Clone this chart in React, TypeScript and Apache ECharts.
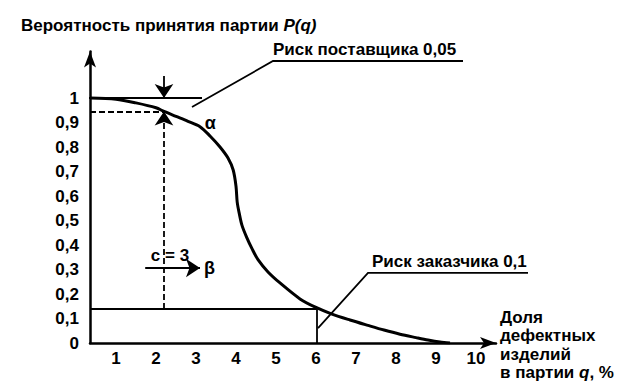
import React, { useEffect, useRef } from "react";
import * as echarts from "echarts";

// Operating characteristic curve: q (% defective) vs P(q)
const qValues = [0.35, 1.0, 1.5, 2.0, 2.2, 2.5, 2.8, 3.1, 3.35, 3.6, 3.8, 3.93, 4.0, 4.03, 4.08, 4.15, 4.27, 4.4, 4.55, 4.8, 5.1, 5.6, 6.0, 6.4, 6.85, 7.3, 7.7, 8.1, 8.5, 8.8, 9.1, 9.35];
const pValues = [1.0, 0.995, 0.98, 0.96, 0.945, 0.925, 0.905, 0.883, 0.845, 0.8, 0.755, 0.706, 0.64, 0.575, 0.53, 0.48, 0.43, 0.385, 0.34, 0.29, 0.245, 0.18, 0.145, 0.118, 0.094, 0.072, 0.053, 0.036, 0.022, 0.012, 0.004, 0.0];

const xTickLabels = [1, 2, 3, 4, 5, 6, 7, 8, 9, 10];
const yTickLabels = [0, 0.1, 0.2, 0.3, 0.4, 0.5, 0.6, 0.7, 0.8, 0.9, 1];

// key reference values
const qAlpha = 2.2; // producer's quality level
const pAlpha = 0.945; // 1 - alpha
const qBeta = 6.02; // consumer's quality level
const pBeta = 0.139; // beta level

const FONT = "'Liberation Sans', Arial, sans-serif";

export default function App() {
  const ref = useRef<HTMLDivElement>(null);

  useEffect(() => {
    document.body.style.margin = "0";
    if (!ref.current) return;
    const chart = echarts.init(ref.current, null, { renderer: "svg" });

    const arrowSeries = (coords: number[][], dashed: boolean, arrow: boolean, width = 2) => ({
      type: "lines",
      coordinateSystem: "cartesian2d",
      polyline: false,
      silent: true,
      symbol: arrow ? ["none", "arrow"] : ["none", "none"],
      symbolSize: [9, 14],
      lineStyle: { color: "#000", width, type: dashed ? [6, 3] : "solid", opacity: 1 },
      data: [{ coords }],
    });

    chart.setOption({
      animation: false,
      backgroundColor: "#fff",
      grid: { left: 90, top: 51.45, width: 406, height: 291.55, containLabel: false },
      xAxis: {
        type: "value",
        min: 0.35,
        max: 10.5,
        splitLine: { show: false },
        axisTick: { show: false },
        axisLine: {
          show: true,
          onZero: false,
          symbol: ["none", "arrow"],
          symbolSize: [9, 16],
          lineStyle: { color: "#000", width: 2.5 },
        },
        axisLabel: {
          customValues: xTickLabels,
          color: "#000",
          fontFamily: FONT,
          fontWeight: "bold",
          fontSize: 17,
          margin: 7,
        },
      },
      yAxis: {
        type: "value",
        min: 0,
        max: 1.19,
        splitLine: { show: false },
        axisTick: { show: false },
        axisLine: {
          show: true,
          onZero: false,
          symbol: ["none", "arrow"],
          symbolSize: [9, 16],
          lineStyle: { color: "#000", width: 2.5 },
        },
        axisLabel: {
          customValues: yTickLabels,
          formatter: (v: number) => String(Math.round(v * 10) / 10).replace(".", ","),
          color: "#000",
          fontFamily: FONT,
          fontWeight: "bold",
          fontSize: 17,
          margin: 11,
        },
      },
      series: [
        {
          type: "line",
          data: qValues.map((q, i) => [q, pValues[i]]),
          smooth: 0.3,
          showSymbol: false,
          lineStyle: { color: "#000", width: 3 },
          z: 5,
        },
        arrowSeries([[0.2, 1], [3.15, 1]], false, false, 1.8),
        arrowSeries([[0.35, pAlpha], [qAlpha, pAlpha]], true, false, 1.8),
        arrowSeries([[qAlpha, pBeta], [qAlpha, pAlpha]], true, true, 1.8),
        arrowSeries([[qAlpha, 1.09], [qAlpha, 1.0]], false, true, 1.8),
        arrowSeries([[0.35, pBeta], [qBeta, pBeta]], false, false, 1.8),
        arrowSeries([[qBeta, pBeta], [qBeta, 0]], false, false, 1.8),
        arrowSeries([[1.73, 0.306], [3.1, 0.306]], false, true, 1.8),
      ],
    });

    const px = (q: number, v: number) => chart.convertToPixel({ gridIndex: 0 }, [q, v]) as number[];
    const textStyle = (extra: any) => ({
      fill: "#000",
      fontFamily: FONT,
      fontWeight: "bold",
      fontSize: 17,
      ...extra,
    });
    const italic = { fontStyle: "italic", fontWeight: "bold", fontSize: 17, fontFamily: FONT, fill: "#000" };

    const lead1 = [px(2.9, 0.963), px(4.925, 1.151), px(9.675, 1.151)];
    const lead2 = [px(6.05, 0.061), px(7.3, 0.286), px(11.3, 0.286)];
    const alphaPos = px(3.22, 0.9);
    const betaPos = px(3.2, 0.306);
    const cPos = px(2.35, 0.358);

    chart.setOption({
      graphic: [
        { type: "polyline", shape: { points: lead1 }, style: { stroke: "#000", lineWidth: 1.8, fill: null } },
        { type: "polyline", shape: { points: lead2 }, style: { stroke: "#000", lineWidth: 1.8, fill: null } },
        {
          type: "text",
          x: lead1[1][0],
          y: lead1[1][1] - 3,
          style: textStyle({ text: "Риск поставщика 0,05", textVerticalAlign: "bottom" }),
        },
        {
          type: "text",
          x: lead2[1][0] + 4,
          y: lead2[1][1] - 3,
          style: textStyle({ text: "Риск заказчика 0,1", textVerticalAlign: "bottom" }),
        },
        {
          type: "text",
          x: 21,
          y: 25,
          style: textStyle({
            text: "Вероятность принятия партии {i|P(q)}",
            textVerticalAlign: "middle",
            rich: { i: italic },
          }),
        },
        {
          type: "text",
          x: alphaPos[0],
          y: alphaPos[1],
          style: textStyle({ text: "α", textVerticalAlign: "middle", fontSize: 18 }),
        },
        {
          type: "text",
          x: betaPos[0],
          y: betaPos[1],
          style: textStyle({ text: "β", textVerticalAlign: "middle", fontSize: 18 }),
        },
        {
          type: "text",
          x: cPos[0],
          y: cPos[1],
          style: textStyle({ text: "c = 3", textAlign: "center", textVerticalAlign: "middle" }),
        },
        {
          type: "text",
          x: 500,
          y: 308,
          style: textStyle({
            text: "Доля\nдефектных\nизделий\nв партии {i|q}, %",
            lineHeight: 18.5,
            rich: { i: { ...italic, lineHeight: 18.5 } },
          }),
        },
      ],
    });

    return () => chart.dispose();
  }, []);

  return <div ref={ref} style={{ width: 638, height: 391 }} />;
}
